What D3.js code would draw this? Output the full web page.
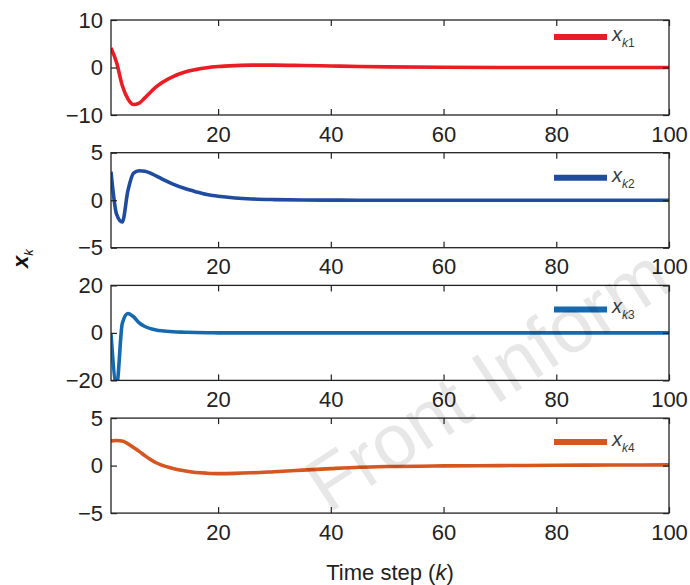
<!DOCTYPE html>
<html>
<head>
<meta charset="utf-8">
<script src="https://cdn.jsdelivr.net/npm/d3@7"></script>
<style>
  body { margin: 0; background: #fff; }
  svg { display: block; font-family: "Liberation Sans", Arial, sans-serif; }
</style>
</head>
<body>
<svg id="chart" width="690" height="585"></svg>
<script>
const steps = [1, 2, 3, 4, 5, 6, 7, 8, 9, 10, 12, 14, 16, 18, 20, 23, 26, 30, 35, 40, 45, 50, 60, 70, 80, 90, 100];

const xk1 = [4.1, 1.0, -3.8, -6.6, -7.8, -7.5, -6.4, -5.2, -4.1, -3.2, -1.9, -1.0, -0.45, -0.05, 0.2, 0.4, 0.5, 0.5, 0.42, 0.32, 0.22, 0.14, 0.05, 0.01, 0, 0, 0];
const xk2 = [3.0, -1.5, -2.3, 1.0, 2.85, 3.1, 3.05, 2.85, 2.55, 2.25, 1.7, 1.25, 0.9, 0.6, 0.42, 0.24, 0.13, 0.06, 0.02, 0.01, 0, 0, 0, 0, 0, 0, 0];
const xk3 = [-0.5, -22, 4.0, 8.2, 6.8, 4.2, 2.7, 1.8, 1.25, 0.9, 0.5, 0.3, 0.15, 0.06, 0.02, 0, 0, 0, 0, 0, 0, 0, 0, 0, 0, 0, 0];
const xk4 = [2.6, 2.65, 2.6, 2.3, 1.9, 1.5, 1.05, 0.65, 0.3, 0.05, -0.3, -0.55, -0.72, -0.8, -0.84, -0.82, -0.76, -0.64, -0.48, -0.32, -0.18, -0.1, -0.03, 0, 0.04, 0.06, 0.08];

const seriesNames = ["k1", "k2", "k3", "k4"];
const yDomains = [[-10, 10], [-5, 5], [-20, 20], [-5, 5]];
const yTicks = [[-10, 0, 10], [-5, 0, 5], [-20, 0, 20], [-5, 0, 5]];
const xTicks = [20, 40, 60, 80, 100];

const panels = [
  { values: xk1, color: "#ec1c24", legendY: 17 },
  { values: xk2, color: "#1f4ca0", legendY: 25 },
  { values: xk3, color: "#1569b0", legendY: 24 },
  { values: xk4, color: "#d5561f", legendY: 24 }
];

const svg = d3.select("#chart");
const left = 111, right = 669;
const panelH = 95, firstTop = 20, panelStep = 132.7;
const tickLen = 6;

const x = d3.scaleLinear().domain([1, 100]).range([left, right]);

panels.forEach((p, i) => {
  const top = firstTop + i * panelStep;
  const y = d3.scaleLinear().domain(yDomains[i]).range([top + panelH, top]);
  const g = svg.append("g");

  // clip so the dip in x_k3 is cut at the frame like the original
  svg.append("clipPath").attr("id", "clip" + i)
    .append("rect")
    .attr("x", left).attr("y", top)
    .attr("width", right - left).attr("height", panelH);

  const line = d3.line()
    .x((d, j) => x(steps[j]))
    .y(d => y(d))
    .curve(d3.curveMonotoneX);

  g.append("path")
    .datum(p.values)
    .attr("clip-path", `url(#clip${i})`)
    .attr("fill", "none")
    .attr("stroke", p.color)
    .attr("stroke-width", 3.6)
    .attr("stroke-linejoin", "round")
    .attr("d", line);

  // axes, ticks pointing inwards
  g.append("g")
    .attr("transform", `translate(0,${top + panelH})`)
    .call(d3.axisBottom(x).tickValues(xTicks).tickSizeInner(-tickLen).tickSizeOuter(0).tickPadding(11));
  g.append("g")
    .attr("transform", `translate(0,${top})`)
    .call(d3.axisTop(x).tickValues(xTicks).tickSizeInner(-tickLen).tickSizeOuter(0).tickFormat(""));
  g.append("g")
    .attr("transform", `translate(${left},0)`)
    .call(d3.axisLeft(y).tickValues(yTicks[i]).tickSizeInner(-tickLen).tickSizeOuter(0).tickPadding(8));
  g.append("g")
    .attr("transform", `translate(${right},0)`)
    .call(d3.axisRight(y).tickValues(yTicks[i]).tickSizeInner(-tickLen).tickSizeOuter(0).tickFormat(""));

  g.selectAll(".domain").remove();
  g.selectAll(".tick line").attr("stroke", "#222").attr("stroke-width", 1.2);
  g.selectAll(".tick text")
    .attr("fill", "#222")
    .style("font-size", "22px")
    .style("font-family", "'Liberation Sans', Arial, sans-serif");

  // frame
  g.append("rect")
    .attr("x", left).attr("y", top)
    .attr("width", right - left).attr("height", panelH)
    .attr("fill", "none")
    .attr("stroke", "#222")
    .attr("stroke-width", 1.3);

  // legend
  const ly = top + p.legendY;
  g.append("line")
    .attr("x1", 554).attr("x2", 607)
    .attr("y1", ly).attr("y2", ly)
    .attr("stroke", p.color)
    .attr("stroke-width", 6);
  const lt = g.append("text")
    .attr("x", 612).attr("y", ly + 4)
    .attr("fill", "#3a3a3a")
    .style("font-size", "20px");
  lt.append("tspan").attr("font-style", "italic").text("x");
  lt.append("tspan").attr("dy", 6).style("font-size", "12px").attr("font-style", "italic").text("k");
  lt.append("tspan").style("font-size", "12px").text(seriesNames[i].slice(1));
});

// shared y label
const yl = svg.append("text")
  .attr("transform", "translate(28,268) rotate(-90)")
  .attr("fill", "#111")
  .style("font-size", "22px");
yl.append("tspan").attr("font-weight", "bold").attr("font-style", "italic").text("x");
yl.append("tspan").attr("dy", 5).style("font-size", "13px").attr("font-style", "italic").text("k");

// x label
const xl = svg.append("text")
  .attr("x", (left + right) / 2)
  .attr("y", 580)
  .attr("text-anchor", "middle")
  .attr("fill", "#222")
  .style("font-size", "22px");
xl.append("tspan").text("Time step (");
xl.append("tspan").attr("font-style", "italic").text("k");
xl.append("tspan").text(")");

// watermark
svg.append("text")
  .attr("transform", "translate(328,514) rotate(-33)")
  .attr("fill", "#000")
  .attr("opacity", 0.09)
  .style("font-size", "76px")
  .text("Front Inform");
</script>
</body>
</html>
